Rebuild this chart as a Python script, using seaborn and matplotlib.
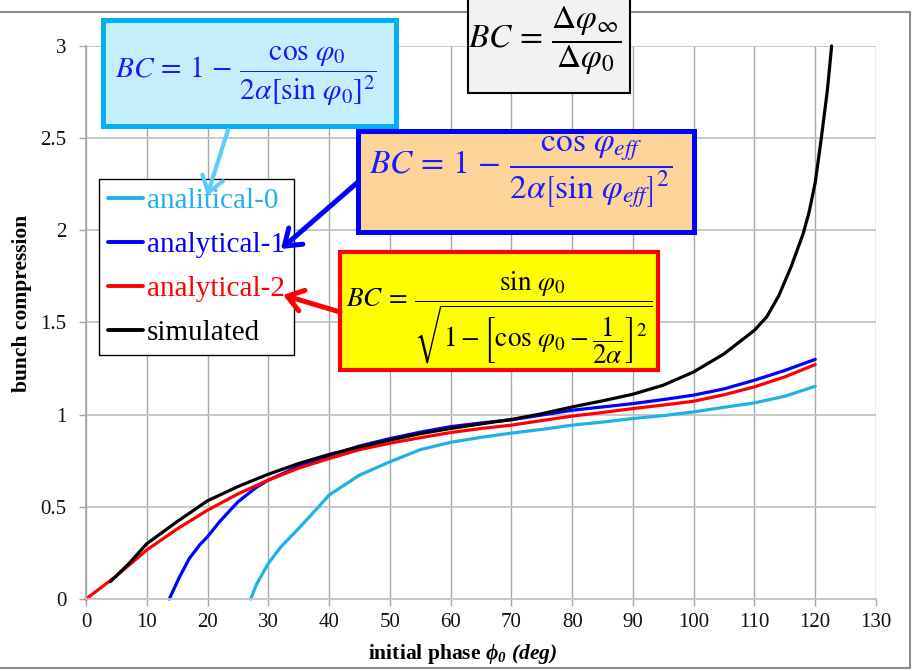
import matplotlib
matplotlib.use("Agg")
import matplotlib.pyplot as plt
from matplotlib.patches import Rectangle, FancyArrowPatch
import pandas as pd
import seaborn as sns

# values (phase in deg, bunch compression)
sim_x = [4, 7, 10, 15, 20, 25, 30, 35, 40, 45, 50, 55, 60, 65, 70, 75, 80, 85,
         90, 95, 100, 105, 110, 112, 114, 116, 118, 119, 120, 121, 122, 122.7]
sim_y = [0.094, 0.19, 0.30, 0.42, 0.533, 0.61, 0.677, 0.735, 0.784, 0.825, 0.862,
         0.897, 0.925, 0.95, 0.974, 1.005, 1.042, 1.075, 1.111, 1.16, 1.232, 1.33,
         1.458, 1.53, 1.645, 1.80, 1.98, 2.10, 2.26, 2.50, 2.76, 3.0]

an2_x = [0, 2, 5, 10, 15, 20, 25, 30, 35, 40, 45, 50, 55, 60, 65, 70, 75, 80,
         85, 90, 95, 100, 105, 110, 115, 120]
an2_y = [0.0, 0.05, 0.125, 0.266, 0.38, 0.482, 0.57, 0.645, 0.71, 0.762, 0.81,
         0.845, 0.875, 0.903, 0.925, 0.943, 0.968, 0.992, 1.012, 1.033, 1.052,
         1.073, 1.108, 1.151, 1.205, 1.272]

an1_x = [13.7, 15.4, 17, 18.7, 20, 22, 25, 28, 30, 35, 40, 45, 50, 55, 60, 65,
         70, 75, 80, 85, 90, 95, 100, 105, 110, 115, 120]
an1_y = [0.0, 0.12, 0.22, 0.293, 0.338, 0.42, 0.527, 0.605, 0.645, 0.72, 0.778,
         0.83, 0.87, 0.905, 0.935, 0.955, 0.972, 0.998, 1.024, 1.042, 1.06, 1.082,
         1.106, 1.14, 1.187, 1.24, 1.30]

an0_x = [27.1, 28, 30, 32, 35, 38, 40, 45, 50, 55, 60, 65, 70, 75, 80, 85, 90,
         95, 100, 105, 110, 115, 120]
an0_y = [0.0, 0.076, 0.193, 0.28, 0.383, 0.49, 0.564, 0.672, 0.744, 0.81, 0.85,
         0.877, 0.90, 0.92, 0.943, 0.96, 0.979, 0.995, 1.015, 1.04, 1.064, 1.10,
         1.154]

labels = ['analitical-0', 'analytical-1', 'analytical-2', 'simulated']
colors = ['#1fb1e6', '#0000ff', '#ff0000', '#000000']

x_ticks = list(range(0, 131, 10))
y_ticks = [0, 0.5, 1, 1.5, 2, 2.5, 3]
y_tick_labels = ['0', '0.5', '1', '1.5', '2', '2.5', '3']

frames = []
for name, xs, ys in zip(labels, [an0_x, an1_x, an2_x, sim_x], [an0_y, an1_y, an2_y, sim_y]):
    frames.append(pd.DataFrame({'phase': xs, 'bc': ys, 'series': name}))
df = pd.concat(frames, ignore_index=True)

sns.set_theme(style='white')
plt.rcParams['font.family'] = ['Liberation Serif', 'DejaVu Serif']
plt.rcParams['mathtext.rm'] = 'Liberation Serif:italic:bold'
plt.rcParams['mathtext.it'] = 'Liberation Serif:italic:bold'
plt.rcParams['mathtext.bf'] = 'Liberation Serif:italic:bold'

W, H = 914, 671


def fx(px):
    return px / W


def fy(py):
    return 1 - py / H


fig = plt.figure(figsize=(W / 100, H / 100), dpi=100)
fig.patch.set_facecolor('white')
ax = fig.add_axes([fx(86), fy(599), 790 / W, 553 / H])

sns.lineplot(data=df, x='phase', y='bc', hue='series', hue_order=labels,
             palette=dict(zip(labels, colors)), estimator=None, sort=False,
             linewidth=2.3, ax=ax)
for line in ax.get_lines():
    line.set_clip_on(False)

ax.set_xlim(0, 130)
ax.set_ylim(0, 3)
ax.set_xticks(x_ticks)
ax.set_yticks(y_ticks)
ax.set_yticklabels(y_tick_labels)
ax.set_axisbelow(True)
ax.xaxis.grid(True, color='#a6a6a6', linewidth=1.0)
ax.yaxis.grid(True, color='#c4c4c4', linewidth=1.3)
for side in ['top', 'right']:
    ax.spines[side].set_visible(False)
ax.spines['left'].set_color('#a6a6a6')
ax.spines['bottom'].set_color('#c4c4c4')
ax.spines['bottom'].set_linewidth(1.3)
ax.tick_params(axis='both', direction='out', length=5, width=1, color='#a6a6a6',
               labelsize=15, labelcolor='#111111', bottom=True, left=True)
ax.tick_params(axis='x', pad=5)
ax.tick_params(axis='y', pad=9)

ax.set_ylabel('bunch compression', fontsize=15.5, fontweight='bold', color='black')
ax.yaxis.set_label_coords(-0.068, 0.535)
xl = ax.set_xlabel(r'initial phase $\phi_0\ (deg)$', fontsize=15.5, fontweight='bold',
                   color='black')
xl.set_math_fontfamily('custom')
ax.xaxis.set_label_coords(0.477, -0.078)

handles, _ = ax.get_legend_handles_labels()
leg = ax.legend(handles, labels, loc='upper left', bbox_to_anchor=(fx(99), fy(179)),
                bbox_transform=fig.transFigure, fontsize=21, frameon=True,
                fancybox=False, edgecolor='black', framealpha=1, borderaxespad=0,
                handlelength=1.2, handletextpad=0.15, labelspacing=0.6, borderpad=0.3)
leg.get_frame().set_linewidth(1.0)
for txt, c in zip(leg.get_texts(), colors):
    txt.set_color(c)
for h in leg.get_lines():
    h.set_linewidth(2.8)

# formula boxes: (left, top, right, bottom) in pixels, face, edge, edge width
boxes = [
    ((103, 20, 396, 126), '#c5eefc', '#00b0f0', 3.6),
    ((468, -5, 630, 93), '#f2f2f2', '#000000', 1.5),
    ((358, 131, 694, 232), '#fcd399', '#0000ff', 3.6),
    ((340, 252, 658, 370), '#ffff00', '#ff0000', 3.0),
]
for (l, t, r, b), face, edge, lw in boxes:
    fig.add_artist(Rectangle((fx(l), fy(b)), (r - l) / W, (b - t) / H,
                             transform=fig.transFigure, facecolor=face,
                             edgecolor=edge, linewidth=lw, zorder=5))

formulas = [
    (246, 76, r'$BC\,=\,1\,-\,\dfrac{\cos\,\varphi_0}{2\alpha[\sin\,\varphi_0]^2}$', '#1a1aff', 21.3),
    (545, 41, r'$BC\,=\,\dfrac{\Delta\varphi_\infty}{\Delta\varphi_0}$', 'black', 24),
    (521, 172, r'$BC\,=\,1\,-\,\dfrac{\cos\,\varphi_{eff}}{2\alpha\left[\sin\,\varphi_{eff}\right]^2}$',
     '#1a1aff', 24),
    (499, 318, r'$BC\,=\,\dfrac{\sin\,\varphi_0}{\sqrt{1 - \left[\cos\,\varphi_0 - \dfrac{1}{2\alpha}\right]^2}}$',
     'black', 19.6),
]
for px, py, tex, c, size in formulas:
    t = fig.text(fx(px), fy(py), tex, ha='center', va='center', color=c,
                 fontsize=size, zorder=6)
    t.set_math_fontfamily('stix')

arrows = [
    ((228, 130), (207, 196), '#5bcdf8', 3.0),
    ((358, 182), (281, 249), '#0000ff', 3.6),
    ((340, 312), (283, 295), '#ff0000', 3.6),
]
for (x0, y0), (x1, y1), c, lw in arrows:
    fig.add_artist(FancyArrowPatch((fx(x0), fy(y0)), (fx(x1), fy(y1)),
                                   transform=fig.transFigure,
                                   arrowstyle='->,head_length=0.5,head_width=0.35',
                                   mutation_scale=22, color=c, linewidth=lw,
                                   shrinkA=0, shrinkB=0, zorder=7))

# outer chart frame
fig.add_artist(Rectangle((-0.01, fy(668)), fx(910) + 0.01, (668 - 12) / H,
                         transform=fig.transFigure, facecolor='none',
                         edgecolor='#8c8c8c', linewidth=1.5, zorder=1))

fig.savefig('out.png', dpi=100, facecolor='white')
